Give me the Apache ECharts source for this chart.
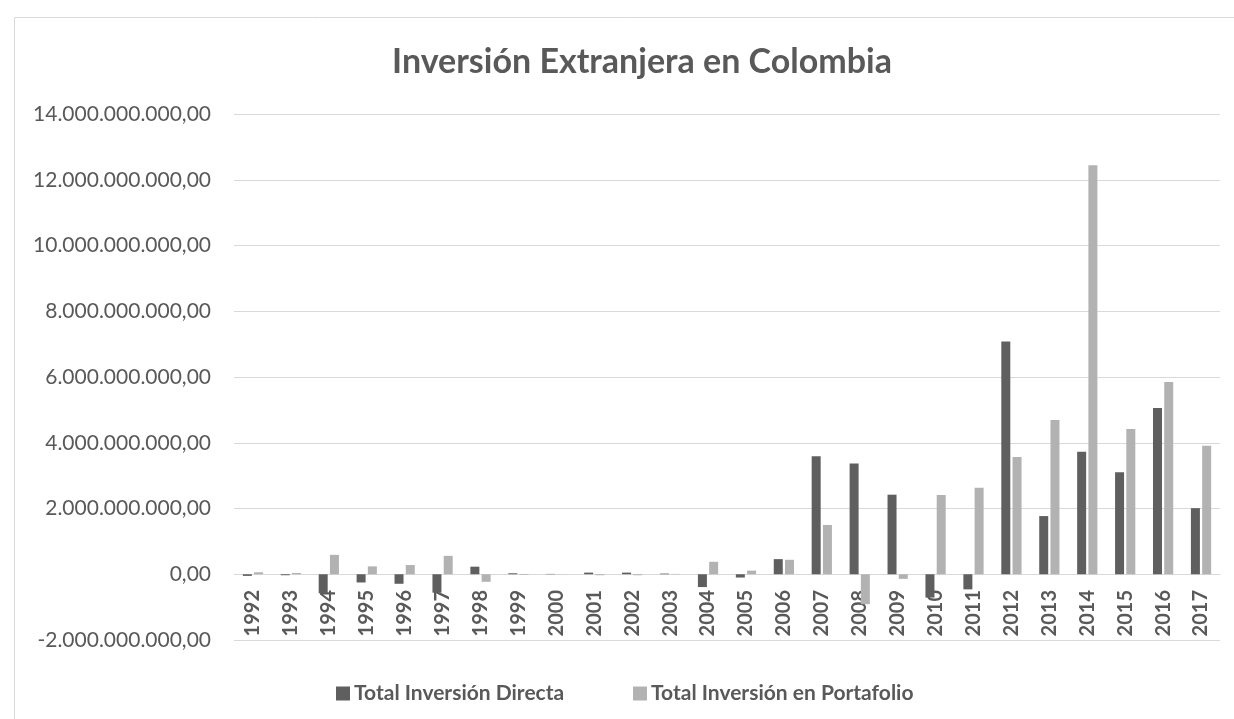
<!DOCTYPE html>
<html>
<head>
<meta charset="utf-8">
<script src="https://cdn.jsdelivr.net/npm/echarts@6/dist/echarts.min.js"></script>
<style>
html,body{margin:0;padding:0;background:#fff;}
#chart{width:1234px;height:719px;}
</style>
</head>
<body>
<div id="chart"></div>
<script>
const years = ['1992','1993','1994','1995','1996','1997','1998','1999','2000','2001','2002','2003','2004','2005','2006','2007','2008','2009','2010','2011','2012','2013','2014','2015','2016','2017'];
// values in billions (x 1e9)
const directaB = [-0.05,-0.03,-0.58,-0.25,-0.29,-0.56,0.23,0.03,0.01,0.05,0.05,0.02,-0.39,-0.10,0.46,3.59,3.37,2.42,-0.71,-0.46,7.08,1.77,3.73,3.10,5.06,2.01];
const portafolioB = [0.06,0.04,0.59,0.24,0.28,0.56,-0.23,-0.02,0.005,-0.03,-0.03,0.01,0.38,0.11,0.44,1.50,-0.91,-0.14,2.41,2.63,3.57,4.69,12.44,4.42,5.85,3.91];
const seriesNames = ['Total Inversión Directa','Total Inversión en Portafolio'];
const directa = directaB.map(v => v * 1e9);
const portafolio = portafolioB.map(v => v * 1e9);

function fmt(v){
  const neg = v < 0;
  let s = Math.abs(Math.round(v)).toString();
  s = s.replace(/\B(?=(\d{3})+(?!\d))/g, '.');
  return (neg ? '-' : '') + s + ',00';
}

const legendText = {fontFamily: 'Lato', fontWeight: 'bold', fontSize: 21, color: '#595959', padding: [0,0,0,-1]};
const chart = echarts.init(document.getElementById('chart'));
chart.setOption({
  animation: false,
  backgroundColor: '#ffffff',
  graphic: [{
    type: 'rect', left: 12, top: 15,
    shape: {width: 1300, height: 800},
    style: {fill: 'none', stroke: '#d9d9d9', lineWidth: 1}
  }],
  title: {
    text: 'Inversión Extranjera en Colombia',
    left: 637, top: 40, textAlign: 'center',
    textStyle: {fontFamily: 'Lato', fontWeight: 'bold', fontSize: 34, color: '#595959'}
  },
  legend: [
    {data: [seriesNames[0]], left: 331, top: 678, icon: 'rect', itemWidth: 14, itemHeight: 14, textStyle: legendText},
    {data: [seriesNames[1]], left: 628, top: 678, icon: 'rect', itemWidth: 14, itemHeight: 14, textStyle: legendText}
  ],
  grid: {left: 234, right: 14, top: 114, bottom: 79, containLabel: false},
  xAxis: {
    type: 'category', data: years,
    offset: -66, z: 0,
    axisLine: {onZero: false, lineStyle: {color: '#d9d9d9', width: 1}},
    axisTick: {show: false},
    axisLabel: {rotate: 90, margin: 16, interval: 0, fontFamily: 'Lato', fontWeight: 'bold', fontSize: 20, color: '#595959'}
  },
  yAxis: {
    type: 'value', min: -2e9, max: 14e9, interval: 2e9,
    axisLine: {show: false}, axisTick: {show: false},
    splitLine: {lineStyle: {color: '#d9d9d9', width: 1}},
    axisLabel: {formatter: fmt, margin: 23, fontFamily: 'Lato', fontSize: 21, color: '#595959'}
  },
  series: [
    {name: seriesNames[0], type: 'bar', z: 5, data: directa, barWidth: 9, barGap: '25%', itemStyle: {color: '#5f5f5f'}},
    {name: seriesNames[1], type: 'bar', z: 5, data: portafolio, barWidth: 9, barGap: '25%', itemStyle: {color: '#b2b2b2'}}
  ]
});
</script>
</body>
</html>
